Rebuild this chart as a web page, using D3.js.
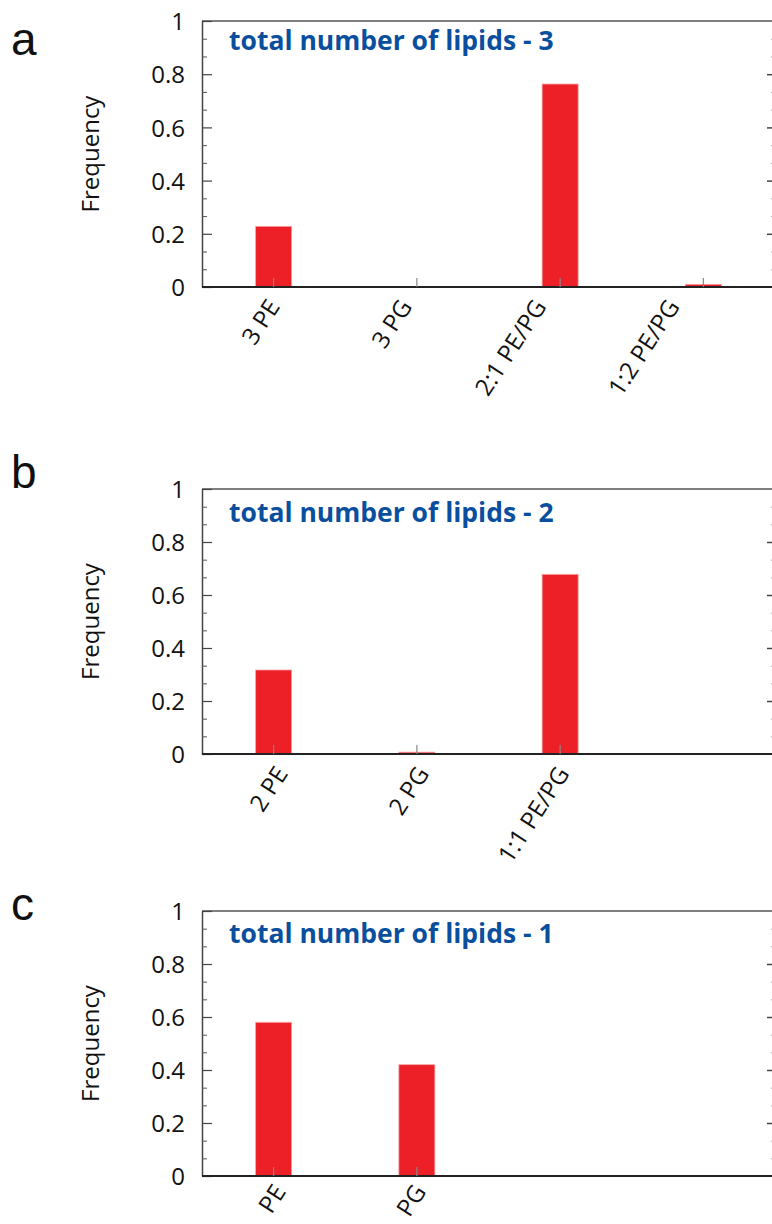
<!DOCTYPE html>
<html>
<head>
<meta charset="utf-8">
<script src="https://cdn.jsdelivr.net/npm/d3@7"></script>
<style>
  body { margin: 0; background: #fff; }
  svg { display: block; }
  .tick text { font-family: "Open Sans", sans-serif; fill: #111; }
</style>
</head>
<body>
<svg id="chart"></svg>
<script>
const width = 772;
const height = 1224;

// Data
const panelLetters = ["a", "b", "c"];
const panelTitles = ["total number of lipids - 3", "total number of lipids - 2", "total number of lipids - 1"];
const categoriesA = ["3 PE", "3 PG", "2:1 PE/PG", "1:2 PE/PG"];
const valuesA = [0.228, 0, 0.763, 0.01];
const categoriesB = ["2 PE", "2 PG", "1:1 PE/PG"];
const valuesB = [0.317, 0.007, 0.678];
const categoriesC = ["PE", "PG"];
const valuesC = [0.58, 0.42];
const yTicks = [0, 0.2, 0.4, 0.6, 0.8, 1];
const yMinorTicks = d3.range(0, 15).map(i => i / 15).filter(v => Math.round(v * 15) % 3 !== 0);

// layout; labelShift nudges the rotated labels the way the original has them
const panels = [
    { letter: panelLetters[0], title: panelTitles[0], cats: categoriesA, vals: valuesA, top: 21, bottom: 287, letterY: 55, titleY: 50, labelShift: [-1, -12, -21, -31], labelY: 15 },
    { letter: panelLetters[1], title: panelTitles[1], cats: categoriesB, vals: valuesB, top: 489, bottom: 754, letterY: 488, titleY: 522, labelShift: [7, 5, 2], labelY: 15 },
    { letter: panelLetters[2], title: panelTitles[2], cats: categoriesC, vals: valuesC, top: 911, bottom: 1176, letterY: 920, titleY: 943, labelShift: [5, 2], labelY: 11 }
];

const left = 202;
const right = 775;
const barWidth = 36;

const svg = d3.select("#chart")
    .attr("width", width)
    .attr("height", height);

// four slots in every panel, empty ones stay blank
const xScale = d3.scaleBand()
    .domain([0, 1, 2, 3])
    .range([left, right]);

panels.forEach(p => {
    const g = svg.append("g");

    const yScale = d3.scaleLinear()
        .domain([0, 1])
        .range([p.bottom, p.top]);

    // panel letter
    g.append("text")
        .attr("x", 11)
        .attr("y", p.letterY)
        .style("font-family", "'Liberation Sans', Arial, sans-serif")
        .style("font-size", "46px")
        .attr("fill", "#111")
        .text(p.letter);

    // top border
    g.append("line")
        .attr("x1", left).attr("x2", width + 5)
        .attr("y1", p.top).attr("y2", p.top)
        .attr("stroke", "#555").attr("stroke-width", 1.5);

    // bars
    g.selectAll(".bar")
        .data(p.vals)
        .enter()
        .append("rect")
        .attr("class", "bar")
        .attr("x", (d, i) => xScale(i) + xScale.bandwidth() / 2 - barWidth / 2)
        .attr("width", barWidth)
        .attr("y", d => yScale(d))
        .attr("height", d => p.bottom - yScale(d))
        .attr("fill", "#ed1f27")
        .attr("stroke", "#f5a3a3")
        .attr("stroke-width", d => d > 0 ? 0.8 : 0);

    // left axis, major ticks
    const yAxis = d3.axisLeft(yScale)
        .tickValues(yTicks)
        .tickFormat(d => d === 0 || d === 1 ? d3.format("d")(d) : d3.format(".1f")(d))
        .tickSize(-10)
        .tickSizeOuter(0)
        .tickPadding(17);

    const ya = g.append("g")
        .attr("transform", `translate(${left},0)`)
        .call(yAxis);
    ya.select(".domain").attr("stroke", "#444").attr("stroke-width", 1.5);
    ya.selectAll(".tick line").attr("stroke", "#444").attr("stroke-width", 1.2);
    ya.selectAll(".tick text").style("font-size", "24px").attr("dy", "0.36em");

    // left axis, minor ticks
    const yMinor = g.append("g")
        .attr("transform", `translate(${left},0)`)
        .call(d3.axisLeft(yScale).tickValues(yMinorTicks).tickSize(-5).tickSizeOuter(0).tickFormat(""));
    yMinor.select(".domain").remove();
    yMinor.selectAll(".tick line").attr("stroke", "#555").attr("stroke-width", 1);

    // right axis (cut by the page edge)
    const yr = g.append("g")
        .attr("transform", `translate(774,0)`)
        .call(d3.axisRight(yScale).tickValues(yTicks.filter(v => v > 0 && v < 1)).tickSize(-7).tickSizeOuter(0).tickFormat(""));
    yr.select(".domain").remove();
    yr.selectAll(".tick line").attr("stroke", "#444").attr("stroke-width", 1.5);
    const yrMinor = g.append("g")
        .attr("transform", `translate(774,0)`)
        .call(d3.axisRight(yScale).tickValues(yMinorTicks).tickSize(-3).tickSizeOuter(0).tickFormat(""));
    yrMinor.select(".domain").remove();
    yrMinor.selectAll(".tick line").attr("stroke", "#aaa").attr("stroke-width", 1);

    // bottom axis, ticks only where a category exists
    const xAxis = d3.axisBottom(xScale)
        .tickValues(p.cats.map((c, i) => i))
        .tickFormat(i => p.cats[i])
        .tickSize(-9)
        .tickSizeOuter(0);

    const xa = g.append("g")
        .attr("transform", `translate(0,${p.bottom})`)
        .call(xAxis);
    xa.select(".domain").attr("d", `M${left},0H${width + 5}`).attr("stroke", "#222").attr("stroke-width", 2);
    xa.selectAll(".tick line").attr("stroke", "#888").attr("stroke-width", 1.2);
    xa.selectAll(".tick text")
        .style("font-size", "24px")
        .attr("text-anchor", "end")
        .attr("y", 0)
        .attr("dy", "0.35em")
        .attr("transform", i => `translate(${1 + p.labelShift[i]},${p.labelY}) rotate(-57)`);
    xa.raise();

    // title inside the box
    g.append("text")
        .attr("x", 229)
        .attr("y", p.titleY)
        .style("font-family", "'Open Sans', sans-serif")
        .style("font-weight", "bold")
        .style("font-size", "26.5px")
        .attr("fill", "#0a4f9e")
        .text(p.title);

    // y label
    g.append("text")
        .attr("transform", `translate(99,${(p.top + p.bottom) / 2}) rotate(-90)`)
        .attr("text-anchor", "middle")
        .style("font-family", "'Open Sans', sans-serif")
        .style("font-size", "24px")
        .attr("fill", "#111")
        .text("Frequency");
});
</script>
</body>
</html>
